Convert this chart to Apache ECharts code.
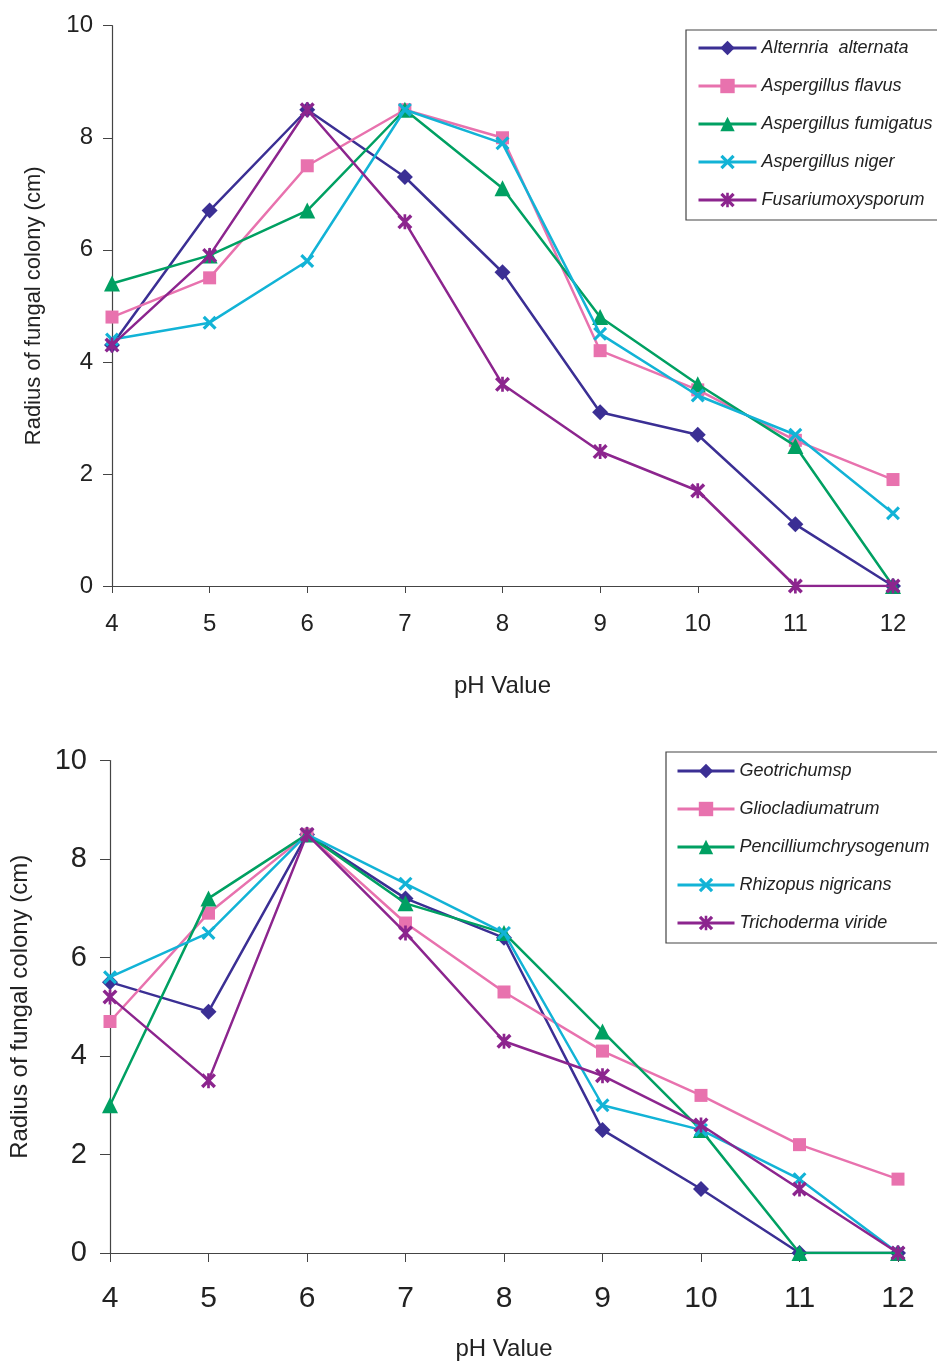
<!DOCTYPE html>
<html>
<head>
<meta charset="utf-8">
<script src="https://cdn.jsdelivr.net/npm/echarts@6/dist/echarts.min.js"></script>
<style>html,body{margin:0;padding:0;background:#fff;}#c{width:937px;height:1363px;}</style>
</head>
<body>
<div id="c"></div>
<script>
// ---- data ----
const phValues = [4, 5, 6, 7, 8, 9, 10, 11, 12];

const namesTop = ['Alternria  alternata', 'Aspergillus flavus', 'Aspergillus fumigatus', 'Aspergillus niger', 'Fusariumoxysporum'];
const alternaria   = [4.3, 6.7, 8.5, 7.3, 5.6, 3.1, 2.7, 1.1, 0];
const aspFlavus    = [4.8, 5.5, 7.5, 8.5, 8.0, 4.2, 3.5, 2.6, 1.9];
const aspFumigatus = [5.4, 5.9, 6.7, 8.5, 7.1, 4.8, 3.6, 2.5, 0];
const aspNiger     = [4.4, 4.7, 5.8, 8.5, 7.9, 4.5, 3.4, 2.7, 1.3];
const fusarium     = [4.3, 5.9, 8.5, 6.5, 3.6, 2.4, 1.7, 0, 0];

const namesBottom = ['Geotrichumsp', 'Gliocladiumatrum', 'Pencilliumchrysogenum', 'Rhizopus nigricans', 'Trichoderma viride'];
const geotrichum   = [5.5, 4.9, 8.5, 7.2, 6.4, 2.5, 1.3, 0, 0];
const gliocladium  = [4.7, 6.9, 8.5, 6.7, 5.3, 4.1, 3.2, 2.2, 1.5];
const pencillium   = [3.0, 7.2, 8.5, 7.1, 6.5, 4.5, 2.5, 0, 0];
const rhizopus     = [5.6, 6.5, 8.5, 7.5, 6.5, 3.0, 2.5, 1.5, 0];
const trichoderma  = [5.2, 3.5, 8.5, 6.5, 4.3, 3.6, 2.6, 1.3, 0];

const yTicks = [0, 2, 4, 6, 8, 10];
const yTitle = 'Radius of fungal colony (cm)';
const xTitle = 'pH Value';

// ---- styles ----
const colors = ['#3B2F94', '#E872AE', '#00A062', '#12B3D6', '#8C258E'];
const XPATH = 'path://M0,1.6 L1.6,0 L10,8.4 L8.4,10 Z M8.4,0 L10,1.6 L1.6,10 L0,8.4 Z';
const STARPATH = 'path://M0,1.6 L1.6,0 L10,8.4 L8.4,10 Z M8.4,0 L10,1.6 L1.6,10 L0,8.4 Z M4.1,0 L5.9,0 L5.9,10 L4.1,10 Z';
const symbols = ['diamond', 'rect', 'triangle', XPATH, STARPATH];
const symSizes = [16, 13, 16, 14, 15];
const FONT = 'Liberation Sans, Arial, sans-serif';

function pairs(arr) { return phValues.map((x, i) => [x, arr[i]]); }

function makeSeries(names, arrays, gridIdx) {
  return arrays.map((arr, i) => ({
    type: 'line',
    name: names[i],
    xAxisIndex: gridIdx,
    yAxisIndex: gridIdx,
    data: pairs(arr),
    symbol: symbols[i],
    symbolSize: symSizes[i],
    color: colors[i],
    lineStyle: { width: 2.5, color: colors[i] },
    itemStyle: { color: colors[i] },
    z: 2 + i,
    animation: false
  }));
}

function xAxis(gridIdx, labelSize, margin, nameGap, tickLen) {
  return {
    type: 'value', gridIndex: gridIdx, min: 4, max: 12, interval: 1,
    axisLine: { lineStyle: { color: '#444', width: 1.2 } },
    axisTick: { show: true, length: tickLen, lineStyle: { color: '#444' } },
    splitLine: { show: false },
    axisLabel: { fontSize: labelSize, color: '#222', margin: margin, fontFamily: FONT },
    name: xTitle, nameLocation: 'middle', nameGap: nameGap,
    nameTextStyle: { fontSize: 24, color: '#222', fontFamily: FONT }
  };
}
function yAxis(gridIdx, labelSize, margin, nameGap, nameSize, tickLen) {
  return {
    type: 'value', gridIndex: gridIdx, min: yTicks[0], max: yTicks[yTicks.length - 1], interval: 2,
    axisLine: { show: true, lineStyle: { color: '#444', width: 1.2 } },
    axisTick: { show: true, length: tickLen, lineStyle: { color: '#444' } },
    splitLine: { show: false },
    axisLabel: { fontSize: labelSize, color: '#222', margin: margin, fontFamily: FONT },
    name: yTitle, nameLocation: 'middle', nameGap: nameGap,
    nameTextStyle: { fontSize: nameSize, color: '#222', fontFamily: FONT }
  };
}

function legend(names, left, top, pad, itemWidth) {
  return {
    data: names, orient: 'vertical', left: left, top: top,
    padding: pad, itemGap: 18, itemWidth: itemWidth, itemHeight: 18,
    borderColor: '#444', borderWidth: 1.2, borderRadius: 0,
    textStyle: { fontSize: 18, fontStyle: 'italic', color: '#222', fontFamily: FONT, lineHeight: 20 },
    lineStyle: { width: 3 },
    itemStyle: { borderWidth: 0 }
  };
}

const chart = echarts.init(document.getElementById('c'), null, { renderer: 'canvas' });
chart.setOption({
  backgroundColor: '#fff',
  animation: false,
  grid: [
    { left: 112, top: 25.7, width: 781, height: 560.3 },
    { left: 110, top: 760.5, width: 788, height: 492.5 }
  ],
  xAxis: [ xAxis(0, 24, 26, 88, 7), xAxis(1, 30, 31, 84, 9) ],
  yAxis: [ yAxis(0, 24, 19, 67, 22, 9), yAxis(1, 29, 23, 78, 24, 10) ],
  legend: [
    legend(namesTop, 686, 30, [8, 10, 10, 11], 58),
    legend(namesBottom, 666, 752, [9, 10, 10, 10], 57)
  ],
  series: [
    ...makeSeries(namesTop, [alternaria, aspFlavus, aspFumigatus, aspNiger, fusarium], 0),
    ...makeSeries(namesBottom, [geotrichum, gliocladium, pencillium, rhizopus, trichoderma], 1)
  ]
});
</script>
</body>
</html>
